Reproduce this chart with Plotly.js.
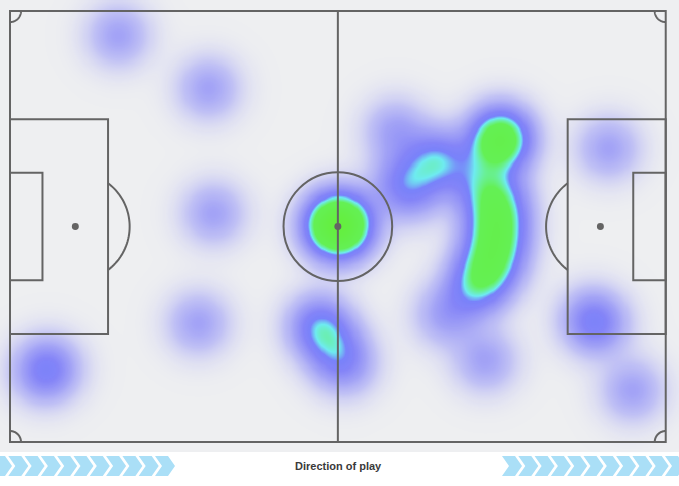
<!DOCTYPE html>
<html>
<head>
<meta charset="utf-8">
<script src="https://cdn.plot.ly/plotly-3.0.1.min.js"></script>
<style>
  html, body { margin: 0; padding: 0; background: #ffffff; }
  #chart { width: 679px; height: 486px; }
</style>
</head>
<body>
<div id="chart"></div>
<script>
// Touch locations on a 105 x 69 pitch (attacking left to right)
const touchX = [
  17.29, 31.71, 32.51, 30.10, 5.12, 6.41,
  51.24, 53.80, 52.52, 52.52, 51.88, 53.16,
  49.48, 49.48, 52.20, 53.64,
  61.65, 64.37, 68.38, 68.38, 74.46, 62.45,
  77.98, 78.94, 78.46, 78.46,
  77.66, 77.98, 77.98, 77.98, 77.82, 77.34, 76.54, 75.42, 73.98,
  69.66, 76.06,
  95.76, 92.88, 94.16, 99.60
];
const touchY = [
  65.17, 56.69, 36.67, 19.06, 11.21, 12.01,
  34.75, 34.75, 35.55, 33.95, 34.75, 34.75,
  18.58, 18.58, 14.73, 12.33,
  49.96, 40.03, 45.16, 45.16, 41.95, 41.95,
  48.68, 48.68, 49.16, 47.72,
  40.03, 37.95, 35.87, 33.79, 31.71, 29.62, 27.70, 25.94, 24.34,
  20.34, 13.13,
  47.08, 19.86, 18.74, 8.33
];

// Pitch geometry (units)
const PITCH_L = 105, PITCH_W = 69;
const BOX_D = 15.7, BOX_Y0 = 17.3, BOX_Y1 = 51.7;
const SIX_D = 5.2, SIX_Y0 = 25.9, SIX_Y1 = 43.1;
const SPOT_D = 10.46, CIRCLE_R = 8.7, CORNER_R = 1.76, SPOT_R = 0.56;

// Screen mapping: 6.245 px per unit, pitch origin at (10, 442)
const PX = 6.245, OX = 10, OY = 442, FIG_W = 679, FIG_H = 486;
const toX = px => (px - OX) / PX;
const toY = py => (OY - py) / PX;

// Kernel density of touches
const SIGMA = 3.36, PEAK = 0.3;
const gx = [], gy = [];
for (let x = toX(0); x <= toX(FIG_W) + 0.01; x += 0.33) gx.push(x);
for (let y = toY(452); y <= toY(0) + 0.01; y += 0.33) gy.push(y);
const z = gy.map(y => gx.map(x => {
  let s = 0;
  for (let i = 0; i < touchX.length; i++) {
    const dx = x - touchX[i], dy = y - touchY[i];
    const d2 = dx * dx + dy * dy;
    if (d2 < 250) s += Math.exp(-d2 / (2 * SIGMA * SIGMA));
  }
  return s * PEAK;
}));

const ZMAX = 2.0;
const stops = [
  [0.00, 'rgba(120,120,255,0)'],
  [0.04, 'rgba(128,128,250,0.12)'],
  [0.15, 'rgba(125,125,250,0.40)'],
  [0.30, 'rgba(120,120,248,0.64)'],
  [0.50, 'rgba(115,115,248,0.86)'],
  [0.64, 'rgba(115,125,250,0.96)'],
  [0.73, 'rgba(110,235,240,1)'],
  [0.83, 'rgba(105,240,150,1)'],
  [0.92, 'rgba(100,240,85,1)'],
  [ZMAX, 'rgba(100,238,55,1)']
];
const colorscale = stops.map(s => [s[0] / ZMAX, s[1]]);

const heat = {
  type: 'heatmap', x: gx, y: gy, z: z,
  zmin: 0, zmax: ZMAX, zsmooth: 'best',
  colorscale: colorscale, showscale: false, hoverinfo: 'skip'
};

// Pitch markings
const LINE = { color: '#646464', width: 2 };
const shapes = [];
shapes.push({ type: 'rect', layer: 'below', xref: 'paper', yref: 'paper',
  x0: 0, x1: 1, y0: 1 - 452 / FIG_H, y1: 1, fillcolor: '#eeeff1', line: { width: 0 } });

function rect(x0, y0, x1, y1) {
  shapes.push({ type: 'rect', layer: 'above', x0, y0, x1, y1, line: LINE, fillcolor: 'rgba(0,0,0,0)' });
}
function arcPath(cx, cy, r, a0, a1) {
  let p = '';
  const n = 40;
  for (let i = 0; i <= n; i++) {
    const a = (a0 + (a1 - a0) * i / n) * Math.PI / 180;
    p += (i ? ' L' : 'M') + (cx + r * Math.cos(a)).toFixed(3) + ',' + (cy + r * Math.sin(a)).toFixed(3);
  }
  shapes.push({ type: 'path', layer: 'above', path: p, line: LINE });
}
function dot(cx, cy, r) {
  shapes.push({ type: 'circle', layer: 'above', x0: cx - r, x1: cx + r, y0: cy - r, y1: cy + r,
    fillcolor: '#646464', line: { width: 0 } });
}

rect(0, 0, PITCH_L, PITCH_W);
shapes.push({ type: 'line', layer: 'above', x0: PITCH_L / 2, x1: PITCH_L / 2, y0: 0, y1: PITCH_W, line: LINE });
shapes.push({ type: 'circle', layer: 'above', x0: PITCH_L / 2 - CIRCLE_R, x1: PITCH_L / 2 + CIRCLE_R,
  y0: PITCH_W / 2 - CIRCLE_R, y1: PITCH_W / 2 + CIRCLE_R, line: LINE });
dot(PITCH_L / 2, PITCH_W / 2, SPOT_R);

rect(0, BOX_Y0, BOX_D, BOX_Y1);
rect(PITCH_L - BOX_D, BOX_Y0, PITCH_L, BOX_Y1);
rect(0, SIX_Y0, SIX_D, SIX_Y1);
rect(PITCH_L - SIX_D, SIX_Y0, PITCH_L, SIX_Y1);
dot(SPOT_D, PITCH_W / 2, SPOT_R);
dot(PITCH_L - SPOT_D, PITCH_W / 2, SPOT_R);

const dAng = Math.acos((BOX_D - SPOT_D) / CIRCLE_R) * 180 / Math.PI;
arcPath(SPOT_D, PITCH_W / 2, CIRCLE_R, -dAng, dAng);
arcPath(PITCH_L - SPOT_D, PITCH_W / 2, CIRCLE_R, 180 - dAng, 180 + dAng);

arcPath(0, 0, CORNER_R, 0, 90);
arcPath(PITCH_L, 0, CORNER_R, 90, 180);
arcPath(PITCH_L, PITCH_W, CORNER_R, 180, 270);
arcPath(0, PITCH_W, CORNER_R, 270, 360);

// Direction-of-play chevrons (paper coordinates)
const CH_TOP = 456, CH_BOT = 476, CH_TIP = 7, CH_W = 13, CH_STEP = 16.3;
function chevron(x0) {
  const mid = (CH_TOP + CH_BOT) / 2;
  const P = (px, py) => (px / FIG_W).toFixed(5) + ',' + (1 - py / FIG_H).toFixed(5);
  const path = 'M' + P(x0, CH_TOP) + ' L' + P(x0 + CH_W, CH_TOP) + ' L' + P(x0 + CH_W + CH_TIP, mid) +
    ' L' + P(x0 + CH_W, CH_BOT) + ' L' + P(x0, CH_BOT) + ' L' + P(x0 + CH_TIP, mid) + ' Z';
  shapes.push({ type: 'path', layer: 'above', xref: 'paper', yref: 'paper', path,
    fillcolor: '#aadff7', line: { width: 0 } });
}
for (let k = 0; k < 11; k++) chevron(155 - k * CH_STEP);
for (let k = 0; k < 11; k++) chevron(502 + k * CH_STEP);

const layout = {
  width: FIG_W, height: FIG_H,
  margin: { l: 0, r: 0, t: 0, b: 0, pad: 0 },
  paper_bgcolor: '#ffffff', plot_bgcolor: '#ffffff',
  showlegend: false,
  xaxis: { range: [toX(0), toX(FIG_W)], visible: false, fixedrange: true },
  yaxis: { range: [toY(FIG_H), toY(0)], visible: false, fixedrange: true },
  shapes: shapes,
  annotations: [{
    xref: 'paper', yref: 'paper', x: 338 / FIG_W, y: 1 - 466 / FIG_H,
    xanchor: 'center', yanchor: 'middle', showarrow: false,
    text: 'Direction of play',
    font: { family: 'Liberation Sans, Arial, sans-serif', size: 11, color: '#3a3a3a', weight: 'bold' }
  }]
};

Plotly.newPlot('chart', [heat], layout, { staticPlot: true, displayModeBar: false });
</script>
</body>
</html>
